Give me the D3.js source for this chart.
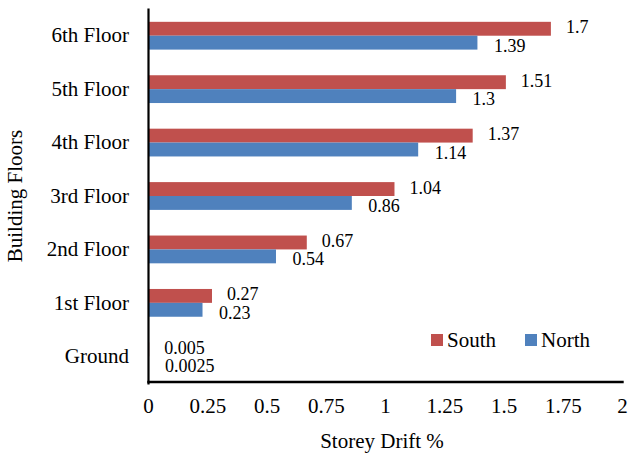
<!DOCTYPE html>
<html>
<head>
<meta charset="utf-8">
<script src="https://cdn.jsdelivr.net/npm/d3@7"></script>
<style>
  body { margin: 0; background: #fff; }
</style>
</head>
<body>
<div id="chart"></div>
<script>
// dữ liệu
const floors = ["Ground", "1st Floor", "2nd Floor", "3rd Floor", "4th Floor", "5th Floor", "6th Floor"];
const seriesNames = ["South", "North"];
const south = [0.005, 0.27, 0.67, 1.04, 1.37, 1.51, 1.7];
const north = [0.0025, 0.23, 0.54, 0.86, 1.14, 1.3, 1.39];
const xTicks = [0, 0.25, 0.5, 0.75, 1, 1.25, 1.5, 1.75, 2];

const colors = { South: "#C0504D", North: "#4F81BD" };
const FONT = "'Times New Roman', 'Liberation Serif', Tinos, 'DejaVu Serif', serif";

const W = 628, H = 454;
const svg = d3.select("#chart").append("svg")
  .attr("width", W).attr("height", H)
  .style("font-family", FONT);

// ==== Scales ====
const x = d3.scaleLinear().domain([0, 2]).range([148, 622]);
const y = d3.scaleBand()
  .domain(floors.slice().reverse())
  .range([9, 383])
  .paddingInner(0.48)
  .paddingOuter(0.24);
const ySub = d3.scaleBand().domain(seriesNames).range([0, y.bandwidth()]);

const rows = floors.map((f, i) => ({ floor: f, South: south[i], North: north[i] }));

// ==== Bars ====
const groups = svg.append("g").selectAll("g")
  .data(rows)
  .enter().append("g")
    .attr("transform", d => `translate(0,${y(d.floor)})`);

groups.selectAll("rect")
  .data(d => seriesNames.map(k => ({ key: k, value: d[k] })))
  .enter().append("rect")
    .attr("x", x(0))
    .attr("y", d => ySub(d.key))
    .attr("width", d => x(d.value) - x(0))
    .attr("height", ySub.bandwidth())
    .attr("fill", d => colors[d.key]);

// nhãn giá trị
const labelOff = { South: { dx: 15, dy: -1.5 }, North: { dx: 16.5, dy: 3 } };
groups.selectAll("text")
  .data(d => seriesNames.map(k => ({ key: k, value: d[k] })))
  .enter().append("text")
    .attr("x", d => x(d.value) + labelOff[d.key].dx)
    .attr("y", d => ySub(d.key) + ySub.bandwidth() / 2 + labelOff[d.key].dy)
    .attr("dominant-baseline", "central")
    .style("font-family", FONT)
    .style("font-size", "18px")
    .text(d => String(d.value));

// ==== Axes ====
const yAxis = svg.append("g")
  .attr("transform", `translate(${x(0)},0)`)
  .call(d3.axisLeft(y).tickSize(0).tickPadding(19))
  .attr("font-family", null);
yAxis.select(".domain").attr("stroke", "#000").attr("stroke-width", 2.2).attr("stroke-linecap", "square");
yAxis.selectAll("text").style("font-family", FONT).style("font-size", "21px").attr("fill", "#000");

const xAxis = svg.append("g")
  .attr("transform", `translate(0,381.5)`)
  .call(d3.axisBottom(x).tickValues(xTicks).tickFormat(d => String(d)).tickSize(0).tickPadding(17))
  .attr("font-family", null);
xAxis.select(".domain").attr("stroke", "#000").attr("stroke-width", 2.4).attr("stroke-linecap", "square");
xAxis.selectAll("text").style("font-family", FONT).style("font-size", "21px").attr("fill", "#000");

// tiêu đề trục
svg.append("text")
  .attr("x", 382).attr("y", 448)
  .attr("text-anchor", "middle")
  .style("font-family", FONT)
  .style("font-size", "21px")
  .text("Storey Drift %");

svg.append("text")
  .attr("transform", "translate(22,196) rotate(-90)")
  .attr("text-anchor", "middle")
  .style("font-family", FONT)
  .style("font-size", "21px")
  .text("Building Floors");

// ==== Legend ====
const legend = svg.append("g").attr("transform", "translate(431,334)");
const items = legend.selectAll("g")
  .data(seriesNames)
  .enter().append("g")
    .attr("transform", (d, i) => `translate(${i * 94},0)`);
items.append("rect")
  .attr("width", 12).attr("height", 12)
  .attr("fill", d => colors[d]);
items.append("text")
  .attr("x", 16).attr("y", 6)
  .attr("dominant-baseline", "central")
  .style("font-family", FONT)
  .style("font-size", "21px")
  .text(d => d);
</script>
</body>
</html>
